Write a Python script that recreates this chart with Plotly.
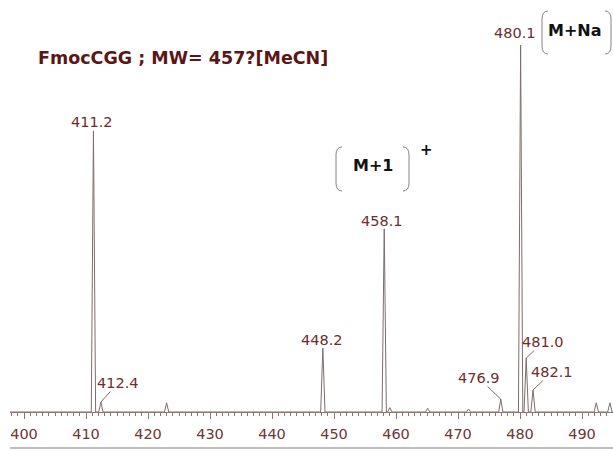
import plotly.graph_objects as go

# ---- data ----
peak_mz = [411.2, 412.4, 423.0, 448.2, 458.1, 459.0, 465.1, 471.7, 476.9, 480.1, 481.0, 482.1, 492.3, 494.5]
peak_int = [76.6, 2.7, 2.5, 17.4, 49.9, 1.2, 1.0, 0.8, 3.5, 100.0, 14.7, 6.0, 2.5, 2.5]
labeled = ["411.2", "412.4", "448.2", "458.1", "476.9", "480.1", "481.0", "482.1"]
tick_vals = [400, 410, 420, 430, 440, 450, 460, 470, 480, 490]
title_text = "FmocCGG ; MW= 457?[MeCN]"

# ---- layout constants ----
W, H = 613, 451
ML, MB = 10, 39
PH = H - MB
X0, X1 = 397.74, 495.0
Y0, Y1 = 0.0, 112.26
HALF = 0.35


def xd(px):
    return X0 + (px - ML) / (W - ML) * (X1 - X0)


def yd(py):
    return Y0 + (PH - py) / PH * (Y1 - Y0)


# build spectrum trace from peak list
xs, ys = [X0], [0.0]
for m, h in sorted(zip(peak_mz, peak_int)):
    xs += [m - HALF, m, m + HALF]
    ys += [0.0, h, 0.0]
xs.append(X1)
ys.append(0.0)

peak_col = "#806c6c"
lab_col = "#6e2c2c"
axis_col = "#8c7676"

fig = go.Figure()
fig.add_trace(go.Scatter(x=xs, y=ys, mode="lines", line=dict(color=peak_col, width=1),
                         cliponaxis=False, hoverinfo="skip", showlegend=False))

# label styles: (dx, dy, leader)
label_style = {
    "411.2": (-1, -9, False),
    "448.2": (-1, -8, False),
    "458.1": (-2, -8, False),
    "480.1": (-6, -12, False),
    "412.4": (17, -19, True),
    "476.9": (-22, -21, True),
    "481.0": (17, -16, True),
    "482.1": (19, -18, True),
}
lab_font = dict(family="DejaVu Sans", size=14.5, color=lab_col)
for m, h in zip(peak_mz, peak_int):
    t = f"{m:.1f}"
    if t not in labeled:
        continue
    dx, dy, leader = label_style[t]
    if leader:
        fig.add_annotation(x=m, y=h, text=t, showarrow=True, arrowhead=0, arrowwidth=1,
                           arrowcolor=peak_col, ax=dx, ay=dy, standoff=0,
                           font=lab_font, borderpad=0)
    else:
        fig.add_annotation(x=m, y=h, text=t, showarrow=False, xshift=dx, yshift=-dy,
                           yanchor="middle", font=lab_font)

# title
fig.add_annotation(x=xd(36), y=yd(58), text="<b>" + title_text + "</b>", showarrow=False,
                   xanchor="left", yanchor="middle",
                   font=dict(family="DejaVu Sans", size=17.5, color="#5c1616"))

# M+1 and M+Na boxes
box_font = dict(family="DejaVu Sans", size=16, color="#111111")
fig.add_annotation(x=xd(373), y=yd(165), text="<b>M+1</b>", showarrow=False,
                   xanchor="center", yanchor="middle", font=box_font)
fig.add_annotation(x=xd(426), y=yd(150), text="<b>+</b>", showarrow=False,
                   xanchor="center", yanchor="middle", font=dict(family="DejaVu Sans", size=15, color="#111111"))
fig.add_annotation(x=xd(575), y=yd(30), text="<b>M+Na</b>", showarrow=False,
                   xanchor="center", yanchor="middle", font=box_font)


def bracket(xp, y_top, y_bot, direction):
    # direction +1: left bracket "(" ; -1: right bracket ")"
    c = 6 * direction
    p = (f"M {xd(xp + c)},{yd(y_top)} Q {xd(xp)},{yd(y_top)} {xd(xp)},{yd(y_top + 8)} "
         f"L {xd(xp)},{yd(y_bot - 8)} Q {xd(xp)},{yd(y_bot)} {xd(xp + c)},{yd(y_bot)}")
    fig.add_shape(type="path", path=p, xref="x", yref="y",
                  line=dict(color="#8a8080", width=1))


bracket(336, 147, 191, 1)
bracket(409, 147, 191, -1)
bracket(542, 11, 54, 1)
bracket(611, 11, 54, -1)

# bottom rule
fig.add_shape(type="line", xref="paper", yref="paper", x0=0, x1=1,
              y0=-(448 - PH) / PH, y1=-(448 - PH) / PH,
              line=dict(color=axis_col, width=1))

fig.update_layout(
    width=W, height=H,
    margin=dict(l=ML, r=0, t=0, b=MB),
    paper_bgcolor="white", plot_bgcolor="white",
    showlegend=False,
    xaxis=dict(range=[X0, X1], showgrid=False, zeroline=False,
               showline=True, linecolor=axis_col, linewidth=1,
               ticks="outside", ticklen=6, tickcolor=axis_col, tickwidth=1,
               tickvals=tick_vals, ticktext=[str(v) for v in tick_vals],
               ticklabelstandoff=3,
               tickfont=dict(family="DejaVu Sans", size=14.5, color="#6e3636"),
               minor=dict(dtick=1, ticks="outside", ticklen=3, tickcolor=axis_col, showgrid=False)),
    yaxis=dict(range=[Y0, Y1], visible=False, showgrid=False, zeroline=False),
)

fig.write_html("out.html", config={"displayModeBar": False},
               post_script="document.body.style.margin='0';document.body.style.overflow='hidden';")
